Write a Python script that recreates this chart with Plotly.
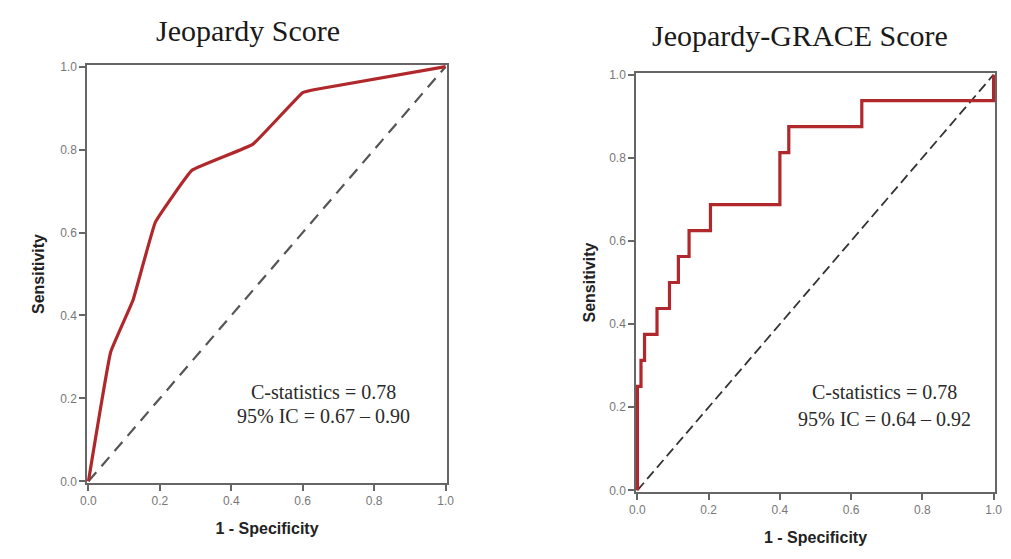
import plotly.graph_objects as go

# Left panel: Jeopardy Score ROC (polyline)
jeo_fpr = [0.0, 0.0625, 0.125, 0.1875, 0.29, 0.46, 0.60, 0.635, 1.0]
jeo_tpr = [0.0, 0.3125, 0.4375, 0.625, 0.75, 0.8125, 0.9375, 0.945, 1.0]

# Right panel: Jeopardy-GRACE Score ROC (step corners, vertical-then-horizontal)
grace_fpr = [0.0, 0.01, 0.02, 0.055, 0.09, 0.115, 0.145, 0.205, 0.40, 0.425, 0.63, 1.0, 1.0]
grace_tpr = [0.0, 0.25, 0.3125, 0.375, 0.4375, 0.5, 0.5625, 0.625, 0.6875, 0.8125, 0.875, 0.9375, 1.0]

ref_line = [0.0, 1.0]
tick_vals = [0.0, 0.2, 0.4, 0.6, 0.8, 1.0]
tick_text = ["0.0", "0.2", "0.4", "0.6", "0.8", "1.0"]

titles = ["Jeopardy Score", "Jeopardy-GRACE Score"]
stats_left = ["C-statistics = 0.78", "95% IC = 0.67 – 0.90"]
stats_right = ["C-statistics = 0.78", "95% IC = 0.64 – 0.92"]

RED = "#b0282b"
W, H = 1011, 559
OFF = 8  # page body margin

fig = go.Figure()
fig.add_trace(go.Scatter(x=ref_line, y=ref_line, mode="lines",
                         line=dict(color="#555555", width=2.2, dash="12px,8px"),
                         xaxis="x", yaxis="y", showlegend=False, hoverinfo="skip"))
fig.add_trace(go.Scatter(x=jeo_fpr, y=jeo_tpr, mode="lines",
                         line=dict(color=RED, width=3.2, shape="spline", smoothing=0.25),
                         xaxis="x", yaxis="y", showlegend=False))
fig.add_trace(go.Scatter(x=ref_line, y=ref_line, mode="lines",
                         line=dict(color="#333333", width=1.8, dash="10px,5px"),
                         xaxis="x2", yaxis="y2", showlegend=False, hoverinfo="skip"))
fig.add_trace(go.Scatter(x=grace_fpr, y=grace_tpr, mode="lines",
                         line=dict(color=RED, width=3.2, shape="vh"),
                         xaxis="x2", yaxis="y2", showlegend=False))

def px_x(p):
    return (p - OFF) / W

def px_y(p):
    return 1 - (p - OFF) / H

axis_common = dict(
    range=[-0.004, 1.004], tickvals=tick_vals, ticktext=tick_text,
    showgrid=False, zeroline=False, showline=True, linecolor="#666666", linewidth=1.5,
    mirror=True, ticks="outside", ticklen=6, tickcolor="#666666", tickwidth=1.5,
    tickfont=dict(family="Liberation Sans, Arial", size=12, color="#777777"),
    fixedrange=True, automargin=False,
)
title_font = dict(family="Liberation Sans, Arial", size=16, color="#222222")

fig.update_layout(
    width=W, height=H,
    margin=dict(l=0, r=0, t=0, b=0),
    paper_bgcolor="white", plot_bgcolor="white",
    xaxis=dict(domain=[px_x(87), px_x(447)], anchor="y",
               title=dict(text="<b>1 - Specificity</b>", font=title_font, standoff=16),
               **axis_common),
    yaxis=dict(domain=[px_y(483), px_y(65)], anchor="x",
               title=dict(text="<b>Sensitivity</b>", font=title_font, standoff=12),
               **axis_common),
    xaxis2=dict(domain=[px_x(636), px_x(995)], anchor="y2",
                title=dict(text="<b>1 - Specificity</b>", font=title_font, standoff=16),
                **axis_common),
    yaxis2=dict(domain=[px_y(492), px_y(73)], anchor="x2",
                title=dict(text="<b>Sensitivity</b>", font=title_font, standoff=10),
                **axis_common),
)

serif = "Liberation Serif, Times New Roman, serif"
stat_font = dict(family=serif, size=20, color="#2a2a2a")
ann = [
    dict(text=titles[0], x=px_x(248), y=px_y(30), xref="paper", yref="paper",
         xanchor="center", yanchor="middle",
         showarrow=False, font=dict(family=serif, size=30, color="#1a1a1a")),
    dict(text=titles[1], x=px_x(800), y=px_y(36), xref="paper", yref="paper",
         xanchor="center", yanchor="middle",
         showarrow=False, font=dict(family=serif, size=30, color="#1a1a1a")),
    dict(text=stats_left[0], x=0.658, y=0.215, xref="x", yref="y",
         xanchor="center", yanchor="middle", showarrow=False, font=stat_font),
    dict(text=stats_left[1], x=0.658, y=0.158, xref="x", yref="y",
         xanchor="center", yanchor="middle", showarrow=False, font=stat_font),
    dict(text=stats_right[0], x=0.694, y=0.236, xref="x2", yref="y2",
         xanchor="center", yanchor="middle", showarrow=False, font=stat_font),
    dict(text=stats_right[1], x=0.694, y=0.172, xref="x2", yref="y2",
         xanchor="center", yanchor="middle", showarrow=False, font=stat_font),
]
fig.update_layout(annotations=ann)

fig.write_html("out.html")
